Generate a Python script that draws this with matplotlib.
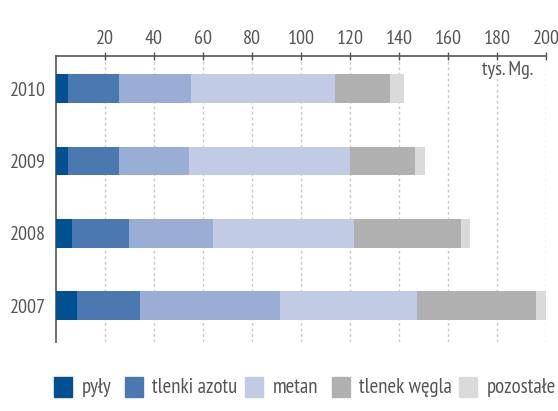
import matplotlib
matplotlib.use("Agg")
import matplotlib.pyplot as plt
from matplotlib.patches import Rectangle
import numpy as np

# emissions, tys. Mg
years = ["2007", "2008", "2009", "2010"]
pyly = [8.6, 6.6, 4.9, 4.9]
tlenki_azotu = [25.8, 23.3, 20.9, 20.9]
dwutlenek_siarki = [57.0, 34.0, 28.3, 29.5]   # segment not in legend
metan = [56.1, 57.8, 66.0, 58.6]
tlenek_wegla = [48.4, 43.5, 26.6, 22.6]
pozostale = [4.0, 3.7, 4.1, 5.7]

series = [
    (pyly, "#005092"),
    (tlenki_azotu, "#4a78b1"),
    (dwutlenek_siarki, "#9aaed5"),
    (metan, "#c1cbe4"),
    (tlenek_wegla, "#b0b0b0"),
    (pozostale, "#dadada"),
]

legend_labels = ["pyły", "tlenki azotu", "metan", "tlenek węgla", "pozostałe"]
legend_colors = ["#005092", "#4a78b1", "#c1cbe4", "#b0b0b0", "#dadada"]
legend_x = [54, 124.5, 245, 331.5, 459]  # pixel positions of legend squares

plt.rcParams['font.family'] = ['PT Sans Narrow', 'DejaVu Sans']
txt = "#555555"
W, H = 558, 411

fig = plt.figure(figsize=(5.58, 4.11), dpi=100)
ax = fig.add_axes([56 / W, 1 - 342 / H, 490 / W, 286 / H])

y = np.arange(len(years))
left = np.zeros(len(years))
for vals, col in series:
    ax.barh(y, vals, left=left, height=0.4, color=col, zorder=3)
    left += np.array(vals)

ax.set_xlim(0, 200)
ax.set_ylim(-0.5, 3.45)
ax.set_xticks(np.arange(20, 201, 20))
ax.xaxis.tick_top()
ax.tick_params(axis='x', direction='inout', length=6, width=1, color="#555555",
               labelsize=14.5, labelcolor=txt, pad=3)
ax.set_yticks(y)
ax.set_yticklabels(years)
ax.tick_params(axis='y', length=0, labelsize=14.5, labelcolor=txt, pad=7)

ax.grid(axis='x', color="#c8c8c8", linestyle=(0, (2, 2)), linewidth=1, zorder=0)
for s in ["right", "bottom"]:
    ax.spines[s].set_visible(False)
for s in ["top", "left"]:
    ax.spines[s].set_color("#555555")
    ax.spines[s].set_linewidth(1.2)

ax.text(0.975, 0.95, "tys. Mg.", transform=ax.transAxes, ha="right", va="center",
        fontsize=14.5, color=txt)

# legend drawn by hand to match spacing
for lx, lab, col in zip(legend_x, legend_labels, legend_colors):
    fig.add_artist(Rectangle((lx / W, 1 - 397 / H), 18 / W, 20 / H,
                             transform=fig.transFigure, color=col))
    fig.text((lx + 28) / W, 1 - 387 / H, lab, ha="left", va="center",
             fontsize=15, color=txt)

fig.savefig("out.png", dpi=100)
